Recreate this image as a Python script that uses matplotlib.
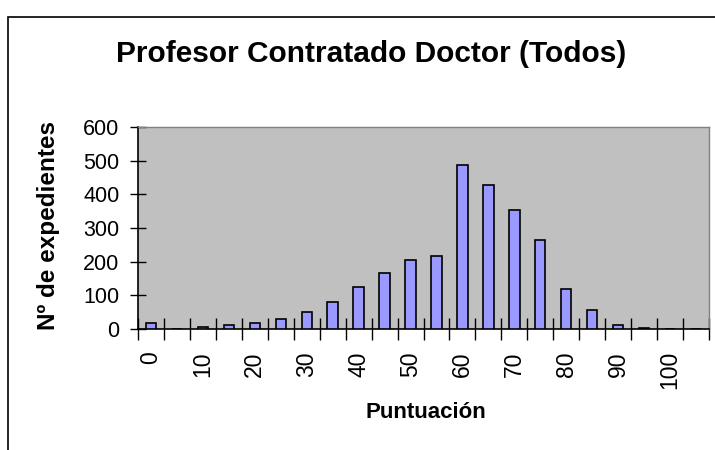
import matplotlib.pyplot as plt
from matplotlib.patches import Rectangle
import numpy as np

plt.rcParams['font.family'] = ['Liberation Sans', 'DejaVu Sans']

## Datos
puntuaciones = ['0', '5', '10', '15', '20', '25', '30', '35', '40', '45', '50',
                '55', '60', '65', '70', '75', '80', '85', '90', '95', '100', '105']
expedientes = [17, 0, 5, 11, 17, 29, 51, 80, 126, 165, 204,
               217, 486, 427, 353, 263, 119, 57, 11, 4, 0, 0]
etiquetas_x = ['0', '10', '20', '30', '40', '50', '60', '70', '80', '90', '100']
ticks_y = [0, 100, 200, 300, 400, 500, 600]

W, H = 715, 450
fig = plt.figure(figsize=(W / 100, H / 100), dpi=100)

# marco del area del grafico (recortado a la derecha y abajo)
fig.patches.append(Rectangle((8 / W, -0.1), 1.2, 1.1 - 17 / H, transform=fig.transFigure,
                             fill=False, edgecolor='black', linewidth=1.2))

ax = fig.add_axes([138 / W, 1 - 329 / H, (709 - 138) / W, (329 - 127) / H])
ax.set_facecolor('#C0C0C0')

x = np.arange(len(puntuaciones))
ax.bar(x, expedientes, width=0.4, color='#9999FF', edgecolor='black', linewidth=1.2, zorder=3)

ax.set_xlim(-0.5, len(puntuaciones) - 0.5)
ax.set_ylim(0, 600)

# etiquetas en cada otra categoria, marcas entre categorias
pos_etq = [puntuaciones.index(e) for e in etiquetas_x]
ax.set_xticks(pos_etq)
ax.set_xticklabels(etiquetas_x, rotation=90, fontsize=16.5)
ax.tick_params(axis='x', which='major', length=0, pad=16)
ax.set_xticks(np.arange(-0.5, len(puntuaciones), 1.0), minor=True)
ax.tick_params(axis='x', which='minor', direction='inout', length=16, width=1)

ax.set_yticks(ticks_y)
ax.set_yticklabels([str(t) for t in ticks_y], fontsize=15.5)
ax.tick_params(axis='y', direction='inout', length=11, width=1, pad=8)

for s in ['top', 'right']:
    ax.spines[s].set_color('#808080')
    ax.spines[s].set_linewidth(1)
for s in ['left', 'bottom']:
    ax.spines[s].set_color('black')
    ax.spines[s].set_linewidth(1.2)

fig.text(371 / W, 1 - 54 / H, 'Profesor Contratado Doctor (Todos)', ha='center', va='center',
         fontsize=21.5, fontweight='bold')
fig.text(49 / W, 1 - 225 / H, 'Nº de expedientes', ha='center', va='center', rotation=90,
         fontsize=17.5, fontweight='bold')
fig.text(426 / W, 1 - 412 / H, 'Puntuación', ha='center', va='center',
         fontsize=16, fontweight='bold')

fig.savefig('out.png', dpi=100)
